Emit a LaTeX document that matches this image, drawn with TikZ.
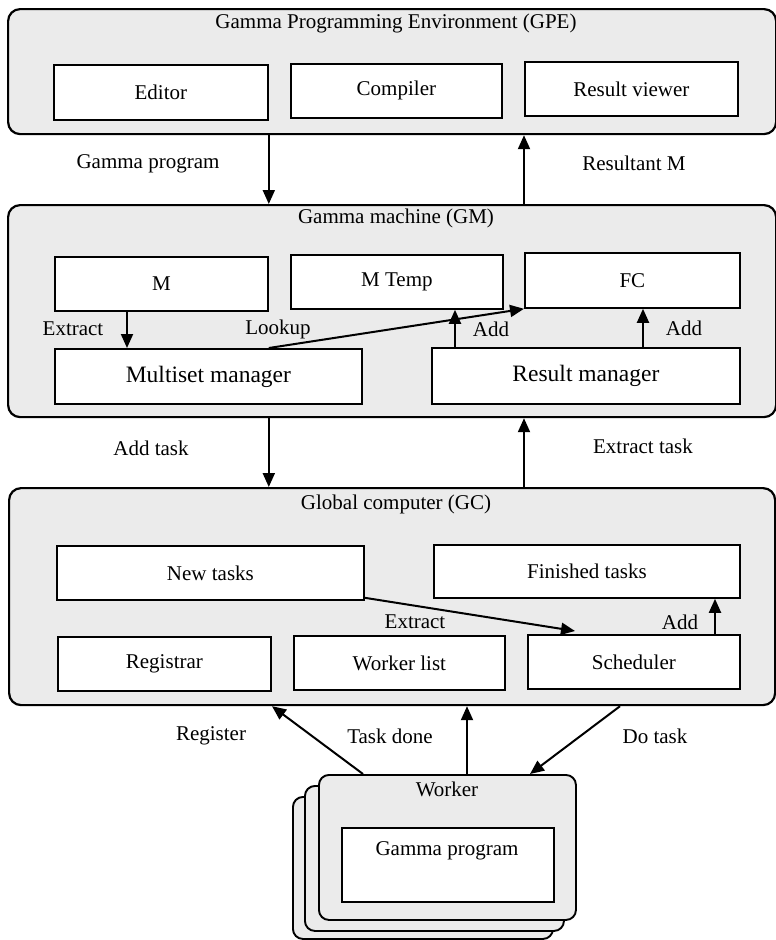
\documentclass[tikz,border=0pt]{standalone}
\usepackage{fontspec}
\setmainfont{Liberation Serif}
\usetikzlibrary{arrows.meta}
\begin{document}
\begin{tikzpicture}[x=1pt,y=-1pt,
  outer/.style={draw, line width=2.2pt, rounded corners=12pt, fill=black!8, inner sep=0pt, anchor=north west},
  wbox/.style={draw, line width=1.9pt, rounded corners=10pt, fill=black!8, inner sep=0pt, anchor=north west},
  inbox/.style={draw, line width=1.8pt, fill=white, inner sep=0pt, anchor=north west, font=\fontsize{21}{24}\selectfont},
  bigbox/.style={inbox, font=\fontsize{23.5}{27}\selectfont},
  lbl/.style={inner sep=0pt, font=\fontsize{21}{24}\selectfont},
  arr/.style={-{Triangle[length=14pt,width=12pt]}, line width=2pt}
]
\useasboundingbox[fill=white] (0,0) rectangle (776,940);

% GPE
\node[outer, minimum width=768pt, minimum height=125pt] (gpe) at (7,8) {};
\node[lbl] (gpet) at (396,23) {Gamma Programming Environment (GPE)};
\node[inbox, minimum width=214pt, minimum height=55pt] (ed) at (53,64) {Editor};
\node[inbox, minimum width=211pt, minimum height=54pt] (co) at (290,63) {Compiler};
\node[inbox, minimum width=213pt, minimum height=54pt] (rv) at (524,61) {Result viewer};

% GM
\node[outer, minimum width=768pt, minimum height=212pt] (gm) at (7,204) {};
\node[lbl] (gmt) at (396,218) {Gamma machine (GM)};
\node[inbox, minimum width=213pt, minimum height=54pt] (m) at (54,256) {M};
\node[inbox, minimum width=212pt, minimum height=54pt] (mt) at (290,254) {M Temp};
\node[inbox, minimum width=215pt, minimum height=55pt] (fc) at (524,252) {FC};
\node[bigbox, minimum width=307pt, minimum height=55pt] (ms) at (54,348) {Multiset manager};
\node[bigbox, minimum width=308pt, minimum height=56pt] (rm) at (431,347) {Result manager};

% GC
\node[outer, minimum width=766pt, minimum height=217pt] (gc) at (8,487) {};
\node[lbl] (gct) at (396,504) {Global computer (GC)};
\node[inbox, minimum width=307pt, minimum height=54pt] (nt) at (56,545) {New tasks};
\node[inbox, minimum width=306pt, minimum height=53pt] (ft) at (433,544) {Finished tasks};
\node[inbox, minimum width=213pt, minimum height=54pt] (rg) at (57,636) {Registrar};
\node[inbox, minimum width=211pt, minimum height=54pt] (wl) at (293,635) {Worker list};
\node[inbox, minimum width=212pt, minimum height=54pt] (sc) at (527,634) {Scheduler};

% Workers
\node[wbox, minimum width=260pt, minimum height=142pt] (w3) at (292,796) {};
\node[wbox, minimum width=259pt, minimum height=145pt] (w2) at (304,785) {};
\node[wbox, minimum width=257pt, minimum height=145pt] (w1) at (318,774) {};
\node[lbl] (wt) at (447,789) {Worker};
\node[inbox, minimum width=212pt, minimum height=74pt] (gp) at (341,827) {};
\node[lbl] (gpt) at (447,851) {Gamma program};

% connectors GPE/GM
\draw[arr] (gpe.south -| ed.east) -- (gm.north -| ed.east);
\draw[arr] (gm.north -| rv.west) -- (gpe.south -| rv.west);
\node[lbl] (l1) at (148,164) {Gamma program};
\node[lbl] (l2) at (634,163) {Resultant M};

% inside GM
\draw[arr] (m.south -| 127,0) -- (ms.north -| 127,0);
\draw[arr] (ms.north -| m.east) -- (fc.south west);
\draw[arr] (rm.north -| 455,0) -- (mt.south -| 455,0);
\draw[arr] (rm.north -| 643,0) -- (fc.south -| 643,0);
\node[lbl] (l3) at (73,329) {Extract};
\node[lbl] (l4) at (278,329) {Lookup};
\node[lbl] (l5) at (491,329) {Add};
\node[lbl] (l6) at (684,328) {Add};

% GM/GC
\draw[arr] (gm.south -| m.east) -- (gc.north -| m.east);
\draw[arr] (gc.north -| fc.west) -- (gm.south -| fc.west);
\node[lbl] (l7) at (151,448) {Add task};
\node[lbl] (l8) at (643,446) {Extract task};

% inside GC
\draw[arr] ([yshift=3pt]nt.south east) -- ([yshift=3pt]sc.north -| 575,0);
\draw[arr] (sc.north -| 715,0) -- (ft.south -| 715,0);
\node[lbl] (l9) at (415,622) {Extract};
\node[lbl] (l10) at (680,622) {Add};

% GC/Worker
\draw[arr] (w1.north -| 363,0) -- (gc.south -| 272,0);
\draw[arr] (w1.north -| 467,0) -- (gc.south -| 467,0);
\draw[arr] (gc.south -| 620,0) -- (w1.north -| 530,0);
\node[lbl] (l11) at (211,736) {Register};
\node[lbl] (l12) at (390,736) {Task done};
\node[lbl] (l13) at (655,736) {Do task};
\end{tikzpicture}
\end{document}
